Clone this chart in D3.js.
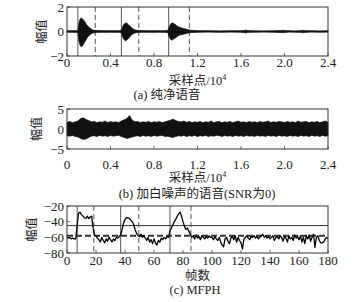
<!DOCTYPE html>
<html><head><meta charset="utf-8">
<script src="https://cdn.jsdelivr.net/npm/d3@7"></script>
<style>
body{margin:0;background:#fff}
svg{display:block}
</style></head><body>
<svg id="chart" width="362" height="302" font-family="'Liberation Serif','DejaVu Serif','Noto Sans CJK SC',serif"></svg>
<script>
// ---------- data ----------
// (a) clean speech envelope (x in 10^4 samples)
const aX = [0,0.04,0.08,0.10,0.105,0.11,0.12,0.13,0.14,0.15,0.16,0.17,0.18,0.19,0.20,0.21,0.22,0.23,0.25,0.28,0.32,0.36,0.40,0.44,0.48,0.50,0.51,0.52,0.53,0.54,0.55,0.56,0.57,0.58,0.59,0.60,0.62,0.64,0.67,0.72,0.78,0.84,0.90,0.93,0.94,0.95,0.96,0.97,0.98,0.99,1.00,1.01,1.02,1.03,1.05,1.07,1.09,1.11,1.14,1.20,1.30,1.40,1.50,1.60,1.64,1.65,1.66,1.70,1.80,1.90,1.97,1.99,2.01,2.05,2.10,2.15,2.17,2.19,2.25,2.32,2.40];
const aHi = [0.06,0.07,0.06,0.08,0.3,0.7,1.0,1.1,1.05,0.95,0.85,0.7,0.55,0.45,0.35,0.3,0.22,0.15,0.1,0.08,0.07,0.06,0.07,0.06,0.07,0.1,0.35,0.55,0.65,0.7,0.68,0.6,0.5,0.42,0.35,0.25,0.15,0.1,0.08,0.07,0.06,0.07,0.06,0.1,0.35,0.55,0.68,0.7,0.65,0.6,0.55,0.45,0.4,0.35,0.3,0.25,0.2,0.15,0.1,0.07,0.06,0.05,0.06,0.06,0.1,0.12,0.08,0.06,0.05,0.06,0.08,0.1,0.07,0.06,0.05,0.07,0.1,0.07,0.06,0.05,0.06];
const aLo = [-0.06,-0.06,-0.07,-0.08,-0.35,-0.8,-1.1,-1.25,-1.2,-1.05,-0.9,-0.75,-0.6,-0.45,-0.35,-0.28,-0.2,-0.14,-0.1,-0.07,-0.06,-0.07,-0.06,-0.07,-0.06,-0.1,-0.4,-0.6,-0.72,-0.75,-0.7,-0.62,-0.5,-0.4,-0.32,-0.22,-0.14,-0.09,-0.07,-0.06,-0.07,-0.06,-0.07,-0.1,-0.4,-0.6,-0.7,-0.68,-0.62,-0.55,-0.5,-0.42,-0.36,-0.3,-0.26,-0.22,-0.18,-0.13,-0.09,-0.06,-0.05,-0.06,-0.05,-0.06,-0.1,-0.12,-0.07,-0.06,-0.05,-0.06,-0.08,-0.1,-0.07,-0.05,-0.06,-0.07,-0.1,-0.07,-0.05,-0.06,-0.05];
const aSolid = [0.1, 0.5, 0.935];
const aDashed = [0.26, 0.66, 1.125];

// (b) noisy speech envelope, sampled every bStep (10^4 samples)
const bStep = 0.025;
const bUp = [1.7,1.9,1.6,1.8,2.0,2.6,2.8,2.4,2.1,1.8,
  1.9,1.6,1.8,1.7,2.0,1.6,1.9,1.7,1.8,1.6,
  2.0,2.3,2.6,3.4,2.2,1.8,1.9,1.6,1.8,1.7,
  1.9,1.6,1.8,1.7,1.9,1.6,1.8,2.0,2.2,2.5,
  2.1,1.9,1.8,2.0,1.7,1.9,1.6,1.8,1.7,1.9,
  1.6,1.8,1.7,2.0,1.6,1.8,1.9,1.6,1.8,1.7,
  1.9,1.6,1.8,2.0,1.7,1.8,1.6,1.9,1.7,1.8,
  1.6,1.9,1.7,1.8,2.0,1.6,1.8,1.7,1.9,1.8,
  1.6,1.9,1.7,1.8,1.6,2.0,1.7,1.8,1.9,1.6,
  1.8,1.7,1.9,1.6,1.8,2.0,1.7];
const bLo = [-1.7,-1.8,-1.6,-1.9,-2.0,-2.4,-2.6,-2.5,-2.1,-1.8,
  -1.7,-1.9,-1.6,-1.8,-1.7,-1.9,-1.6,-1.8,-1.7,-1.6,
  -1.9,-2.1,-2.4,-2.2,-2.0,-1.8,-1.7,-1.9,-1.6,-1.8,
  -1.7,-1.9,-1.6,-1.8,-1.7,-1.6,-1.9,-1.8,-2.0,-2.1,
  -1.9,-1.7,-1.8,-1.6,-1.9,-1.7,-1.8,-1.6,-1.9,-1.7,
  -1.8,-1.6,-1.9,-1.7,-1.8,-1.6,-1.7,-1.9,-1.6,-1.8,
  -1.7,-1.9,-1.6,-1.8,-1.7,-1.9,-1.6,-1.8,-1.7,-1.9,
  -1.6,-1.8,-1.7,-1.9,-1.6,-1.8,-1.7,-1.9,-1.6,-1.8,
  -1.7,-1.9,-1.6,-1.8,-1.7,-1.9,-1.6,-1.8,-1.7,-1.9,
  -1.6,-1.8,-1.7,-1.9,-1.6,-1.8,-1.7];

// (c) MFPH per frame (frames 0..180)
const mfph = [
 -60,-61,-60,-62,-61,-62,-62,-45,-29,-28,
 -31,-33,-35,-36,-33,-36,-34,-33,-48,-57,
 -58,-61,-63,-66,-60,-64,-67,-62,-65,-60,
 -63,-66,-62,-64,-60,-61,-59,-57,-50,-42,
 -37,-35,-35,-36,-38,-40,-44,-50,-55,-58,
 -59,-56,-60,-58,-61,-64,-60,-66,-63,-68,
 -62,-67,-70,-64,-66,-61,-63,-60,-62,-59,
 -60,-52,-48,-44,-40,-37,-33,-30,-28,-33,
 -40,-46,-50,-48,-52,-56,-60,-58,-62,-57,
 -61,-59,-63,-58,-60,-62,-59,-61,-58,-60,
 -60,-63,-59,-62,-64,-60,-66,-70,-72,-62,
 -60,-65,-68,-61,-59,-63,-58,-66,-60,-64,
 -67,-75,-62,-60,-58,-61,-63,-59,-60,-58,
 -61,-59,-62,-60,-58,-56,-60,-58,-61,-59,
 -62,-60,-58,-64,-60,-59,-62,-58,-60,-65,
 -59,-61,-66,-58,-62,-60,-64,-57,-61,-59,
 -63,-58,-66,-60,-68,-58,-62,-57,-65,-60,
 -56,-73,-60,-58,-64,-67,-67,-66,-62,-60,
 -62];
const cSolid = [7, 37, 71];
const cDashed = [18.5, 49.5, 85.5];
const cHSolid = [-45];
const cHDashed = [-58];

const sampleTicks = [0,0.4,0.8,1.2,1.6,2.0,2.4];
const frameTicks = [0,20,40,60,80,100,120,140,160,180];
const aYTicks = [2,0,-2];
const bYTicks = [5,0,-5];
const cYTicks = [-20,-40,-60,-80];

const yLabel = "幅值";
const sampleLabel = "采样点/10";
const frameLabel = "帧数";
const captions = ["(a) 纯净语音", "(b) 加白噪声的语音(SNR为0)", "(c) MFPH"];

// ---------- drawing ----------
const svg = d3.select("#chart");
const L = 67, R = 328;
const FONT = "'Liberation Serif','DejaVu Serif','Noto Sans CJK SC',serif";
const fmtS = d => d === 0 ? "0" : d.toFixed(1);
const fmtN = d => (d < 0 ? "\u2212" + Math.abs(d) : String(d));

function txt(sel){ return sel.attr("font-family", FONT).attr("fill", "#222"); }

function panel(o){
  const x = d3.scaleLinear().domain(o.xd).range([L, R]);
  const y = d3.scaleLinear().domain(o.yd).range([o.bottom, o.top]);
  const g = svg.append("g");
  g.selectAll(".xt").data(o.xt).join("line")
    .attr("x1", d => x(d)).attr("x2", d => x(d))
    .attr("y1", o.bottom).attr("y2", o.bottom - 3)
    .attr("stroke", "#444").attr("stroke-width", 0.8);
  g.selectAll(".yt").data(o.yt).join("line")
    .attr("x1", L).attr("x2", L + 3)
    .attr("y1", d => y(d)).attr("y2", d => y(d))
    .attr("stroke", "#444").attr("stroke-width", 0.8);
  txt(g.selectAll(".xl").data(o.xt).join("text"))
    .attr("x", d => x(d)).attr("y", o.xlBase)
    .attr("text-anchor", "middle").attr("font-size", 13)
    .text(o.xf);
  txt(g.selectAll(".yl").data(o.yt).join("text"))
    .attr("x", L - 3).attr("y", d => y(d)).attr("dy", "0.35em")
    .attr("text-anchor", "end").attr("font-size", 13)
    .text(fmtN);
  txt(g.append("text"))
    .attr("transform", `translate(${o.ylX},${(o.top + o.bottom) / 2}) rotate(-90)`)
    .attr("text-anchor", "middle").attr("dy", "0.35em").attr("font-size", 12)
    .text(yLabel);
  const xl = txt(g.append("text")).attr("x", (L + R) / 2).attr("y", o.xLabBase)
    .attr("text-anchor", "middle").attr("font-size", 12.5);
  xl.append("tspan").text(o.xLab);
  if (o.sup) xl.append("tspan").attr("dy", -5).attr("font-size", 8).text(o.sup);
  txt(g.append("text")).attr("x", o.capX).attr("y", o.capBase)
    .attr("text-anchor", "middle").attr("font-size", 12.5).text(o.cap);
  return {x, y, g};
}

function frame(p, o){
  p.g.append("rect").attr("x", L).attr("y", o.top)
    .attr("width", R - L).attr("height", o.bottom - o.top)
    .attr("fill", "none").attr("stroke", "#333").attr("stroke-width", 1);
}

function vlines(p, o, arr, dashed){
  p.g.selectAll(null).data(arr).join("line")
    .attr("x1", d => p.x(d)).attr("x2", d => p.x(d))
    .attr("y1", o.top).attr("y2", o.bottom)
    .attr("stroke", dashed ? "#666" : "#444")
    .attr("stroke-width", dashed ? 1.1 : 0.9)
    .attr("stroke-dasharray", dashed ? "5,3" : null);
}

// (a)
const oa = {xd:[0,2.4], yd:[-2,2], top:7, bottom:56, xt:sampleTicks, yt:aYTicks, xf:fmtS,
  xlBase:67, ylX:42, xLab:sampleLabel, sup:"4", xLabBase:85, cap:captions[0], capX:167, capBase:99};
const pa = panel(oa);
vlines(pa, oa, aSolid, false);
vlines(pa, oa, aDashed, true);
const aData = aX.map((v, i) => ({x: v, hi: aHi[i], lo: aLo[i]}));
pa.g.append("path").datum(aData)
  .attr("d", d3.area().x(d => pa.x(d.x)).y0(d => pa.y(d.lo)).y1(d => pa.y(d.hi)))
  .attr("fill", "#111").attr("stroke", "#111").attr("stroke-width", 0.8);
frame(pa, oa);

// (b)
const ob = {xd:[0,2.4], yd:[-5,5], top:109, bottom:149, xt:sampleTicks, yt:bYTicks, xf:fmtS,
  xlBase:169, ylX:37, xLab:sampleLabel, sup:"4", xLabBase:182, cap:captions[1], capX:197, capBase:198};
const pb = panel(ob);
const bData = bUp.map((v, i) => ({x: i * bStep, hi: v, lo: bLo[i]}));
pb.g.append("path").datum(bData)
  .attr("d", d3.area().x(d => pb.x(d.x)).y0(d => pb.y(d.lo)).y1(d => pb.y(d.hi)))
  .attr("fill", "#111").attr("stroke", "#111").attr("stroke-width", 0.6);
frame(pb, ob);

// (c)
const oc = {xd:[0,180], yd:[-80,-20], top:206, bottom:253, xt:frameTicks, yt:cYTicks, xf:d => String(d),
  xlBase:265, ylX:32, xLab:frameLabel, sup:null, xLabBase:280, cap:captions[2], capX:195, capBase:294};
const pc = panel(oc);
vlines(pc, oc, cSolid, false);
vlines(pc, oc, cDashed, true);
pc.g.selectAll(null).data(cHSolid).join("line")
  .attr("x1", L).attr("x2", R).attr("y1", d => pc.y(d)).attr("y2", d => pc.y(d))
  .attr("stroke", "#333").attr("stroke-width", 1);
pc.g.selectAll(null).data(cHDashed).join("line")
  .attr("x1", L).attr("x2", R).attr("y1", d => pc.y(d)).attr("y2", d => pc.y(d))
  .attr("stroke", "#333").attr("stroke-width", 1.8).attr("stroke-dasharray", "6,3");
pc.g.append("path").datum(mfph)
  .attr("d", d3.line().x((d, i) => pc.x(i)).y(d => pc.y(d)))
  .attr("fill", "none").attr("stroke", "#000").attr("stroke-width", 1.3)
  .attr("stroke-linejoin", "round");
frame(pc, oc);
</script>
</body></html>
